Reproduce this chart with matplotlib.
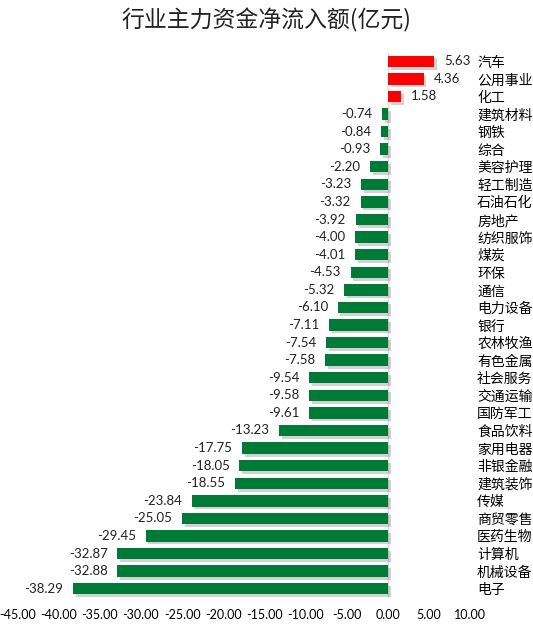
import matplotlib
matplotlib.use("Agg")
import matplotlib.pyplot as plt
import matplotlib.patheffects as pe

plt.rcParams['font.family'] = ['Lato', 'Noto Sans CJK SC', 'DejaVu Sans']

categories = ["汽车", "公用事业", "化工", "建筑材料", "钢铁", "综合", "美容护理", "轻工制造",
              "石油石化", "房地产", "纺织服饰", "煤炭", "环保", "通信", "电力设备", "银行",
              "农林牧渔", "有色金属", "社会服务", "交通运输", "国防军工", "食品饮料", "家用电器",
              "非银金融", "建筑装饰", "传媒", "商贸零售", "医药生物", "计算机", "机械设备", "电子"]
values = [5.63, 4.36, 1.58, -0.74, -0.84, -0.93, -2.20, -3.23, -3.32, -3.92, -4.00, -4.01,
          -4.53, -5.32, -6.10, -7.11, -7.54, -7.58, -9.54, -9.58, -9.61, -13.23, -17.75,
          -18.05, -18.55, -23.84, -25.05, -29.45, -32.87, -32.88, -38.29]
xticks = [-45, -40, -35, -30, -25, -20, -15, -10, -5, 0, 5, 10]
title = "行业主力资金净流入额(亿元)"

fig = plt.figure(figsize=(5.33, 6.24), dpi=100)
n = len(categories)
ax = fig.add_axes([0.033, 1 - (589 + 8.5) / 624, 0.882 - 0.033, (589 - 61 + 17) / 624])

ypos = list(range(n))
colors = ['#FF0000' if v > 0 else '#007A37' for v in values]
bars = ax.barh(ypos, values, height=0.65, color=colors, zorder=3)
for b in bars:
    b.set_path_effects([pe.SimplePatchShadow(offset=(2, -2), shadow_rgbFace='#7f7f7f', alpha=0.35), pe.Normal()])

ax.axvline(0, color='#D9D9D9', lw=1, zorder=1)
ax.set_xlim(-45, 10)
ax.set_ylim(n - 0.5, -0.5)

for y, v in zip(ypos, values):
    txt = f"{v:.2f}"
    if v >= 0:
        ax.annotate(txt, (v, y), xytext=(7, 0), textcoords='offset points', ha='left', va='center', fontsize=9.5, color='#222222')
    else:
        ax.annotate(txt, (v, y), xytext=(-7, 0), textcoords='offset points', ha='right', va='center', fontsize=9.5, color='#222222')

ax.yaxis.tick_right()
ax.set_yticks(ypos)
ax.set_yticklabels(categories, fontsize=10, family=['Noto Sans CJK SC', 'DejaVu Sans'])
ax.tick_params(axis='y', length=0, pad=5)
ax.set_xticks(xticks)
ax.set_xticklabels([f"{t:.2f}" for t in xticks], fontsize=9)
ax.tick_params(axis='x', length=0, pad=8)
for s in ax.spines.values():
    s.set_visible(False)

fig.text(0.5, 1 - 20 / 624, title, ha='center', va='center', fontsize=16.5,
         family=['Noto Sans CJK SC', 'DejaVu Sans'], color='#222222')

fig.savefig("out.png", dpi=100)
